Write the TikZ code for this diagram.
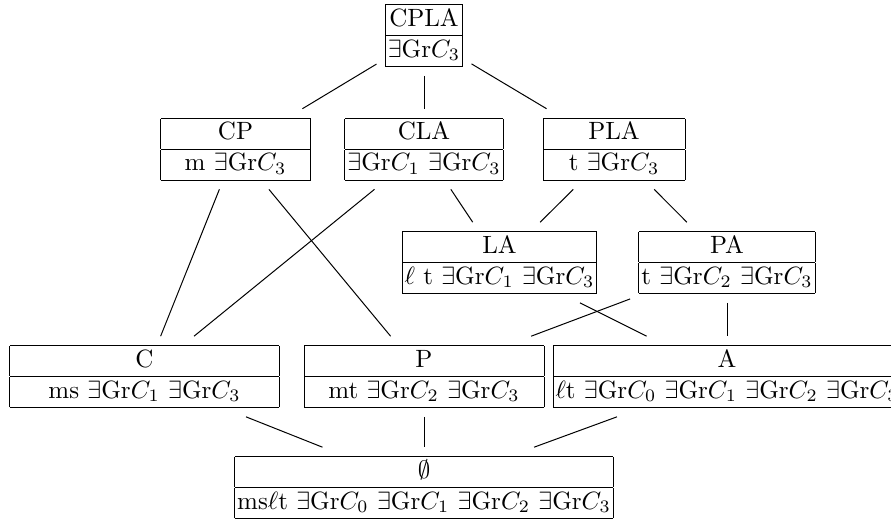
\documentclass[tikz,border=0pt]{standalone}
\setlength\tabcolsep{1pt}
\newcommand\latnat[2]{\begin{tabular}{|c|}\hline #1\\\hline #2\\\hline\end{tabular}}
\newcommand\latwid[3]{\begin{tabular}{|c|}\hline\makebox[#1]{#2}\\\hline\makebox[#1]{#3}\\\hline\end{tabular}}
\newcommand\eg[1]{$\exists\mathrm{Gr}C_{#1}$}
\begin{document}
\begin{tikzpicture}[x=0.4pt,y=-0.4pt,lat/.style={inner sep=0.333em}]
\useasboundingbox (0,0) rectangle (891,523);
\clip (0,0) rectangle (891,523);
\node[lat] (cpla) at (424,35.5) {\latnat{CPLA}{\eg{3}}};
\node[lat] (cp) at (235.5,149) {\latwid{58pt}{CP}{m \eg{3}}};
\node[lat] (cla) at (424,149) {\latnat{CLA}{\eg{1} \eg{3}}};
\node[lat] (pla) at (614,149) {\latwid{54.8pt}{PLA}{t \eg{3}}};
\node[lat] (la) at (499.5,262.5) {\latnat{LA}{$\ell$ t \eg{1} \eg{3}}};
\node[lat] (pa) at (727,262.5) {\latnat{PA}{t \eg{2} \eg{3}}};
\node[lat] (c) at (144.5,376.5) {\latwid{105.6pt}{C}{ms \eg{1} \eg{3}}};
\node[lat] (p) at (424,376.5) {\latwid{94pt}{P}{mt \eg{2} \eg{3}}};
\node[lat] (a) at (727,376.5) {\latnat{A}{$\ell$t \eg{0} \eg{1} \eg{2} \eg{3}}};
\node[lat] (e) at (424,487.5) {\latnat{$\emptyset$}{ms$\ell$t \eg{0} \eg{1} \eg{2} \eg{3}}};
\draw (cpla) -- (cp);
\draw (cpla) -- (cla);
\draw (cpla) -- (pla);
\draw (cp) -- (c);
\draw (cp) -- (p);
\draw (cla) -- (c);
\draw (cla) -- (la);
\draw (pla) -- (la);
\draw (pla) -- (pa);
\draw (la) -- (a);
\draw (pa) -- (p);
\draw (pa) -- (a);
\draw (c) -- (e);
\draw (p) -- (e);
\draw (a) -- (e);
\end{tikzpicture}
\end{document}
